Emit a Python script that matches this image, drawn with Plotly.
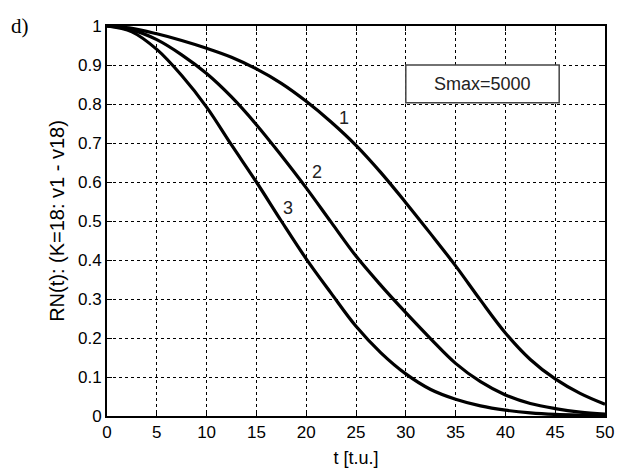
import plotly.graph_objects as go

t = [0, 2.5, 5, 7.5, 10, 12.5, 15, 17.5, 20, 22.5, 25, 27.5, 30, 32.5, 35, 37.5, 40, 42.5, 45, 47.5, 50]
rn1 = [1.0, 0.994, 0.980, 0.963, 0.943, 0.920, 0.890, 0.853, 0.807, 0.754, 0.694, 0.624, 0.547, 0.467, 0.385, 0.297, 0.213, 0.145, 0.095, 0.058, 0.030]
rn2 = [1.0, 0.990, 0.965, 0.926, 0.878, 0.818, 0.747, 0.668, 0.585, 0.497, 0.410, 0.335, 0.265, 0.198, 0.135, 0.088, 0.054, 0.032, 0.019, 0.010, 0.005]
rn3 = [1.0, 0.985, 0.940, 0.873, 0.792, 0.695, 0.600, 0.500, 0.403, 0.315, 0.230, 0.162, 0.108, 0.068, 0.043, 0.026, 0.015, 0.008, 0.004, 0.002, 0.001]

curve_labels = ["1", "2", "3"]
label_t = [23.8, 21.1, 18.2]
label_r = [0.764, 0.626, 0.533]

x_ticks = [0, 5, 10, 15, 20, 25, 30, 35, 40, 45, 50]
y_ticks = [0, 0.1, 0.2, 0.3, 0.4, 0.5, 0.6, 0.7, 0.8, 0.9, 1]
y_tick_text = ["0", "0.1", "0.2", "0.3", "0.4", "0.5", "0.6", "0.7", "0.8", "0.9", "1"]

font_main = "Liberation Sans, Arial, sans-serif"

fig = go.Figure()
for ys in (rn1, rn2, rn3):
    fig.add_trace(go.Scatter(x=t, y=ys, mode="lines",
                             line=dict(color="black", width=3.2, shape="spline", smoothing=1.0),
                             showlegend=False, hoverinfo="skip"))

for lab, lx, ly in zip(curve_labels, label_t, label_r):
    fig.add_annotation(x=lx, y=ly, text=lab, showarrow=False,
                       font=dict(family=font_main, size=18, color="#222"))

# Smax box
fig.add_shape(type="rect", x0=30, x1=45.4, y0=0.803, y1=0.9,
              line=dict(color="#444", width=1.5), fillcolor="white", layer="above")
fig.add_annotation(x=37.7, y=0.8515, text="Smax=5000", showarrow=False,
                   font=dict(family=font_main, size=18, color="#222"))

fig.add_annotation(xref="paper", yref="paper", x=-0.197, y=1.0, xanchor="left", yanchor="middle",
                   text="d)", showarrow=False,
                   font=dict(family="Liberation Serif, Times New Roman, serif", size=21, color="black"))

axis_common = dict(showgrid=True, gridcolor="black", gridwidth=1, griddash="3px,3px",
                   showline=True, linecolor="black", linewidth=2, mirror="allticks",
                   ticks="inside", ticklen=5, tickcolor="black", tickwidth=1,
                   zeroline=False, automargin=False,
                   tickfont=dict(family=font_main, size=17, color="black"))

fig.update_xaxes(range=[0, 50], tickvals=x_ticks,
                 title=dict(text="t [t.u.]", font=dict(family=font_main, size=18, color="black"), standoff=10),
                 **axis_common)
fig.update_yaxes(range=[0, 1], tickvals=y_ticks, ticktext=y_tick_text,
                 title=dict(text="RN(t): (K=18: v1 - v18)", font=dict(family=font_main, size=20, color="black"), standoff=8),
                 **axis_common)

fig.update_layout(width=622, height=470, margin=dict(l=107, r=17, t=26, b=54),
                  paper_bgcolor="white", plot_bgcolor="white")

fig.write_html("out.html")
